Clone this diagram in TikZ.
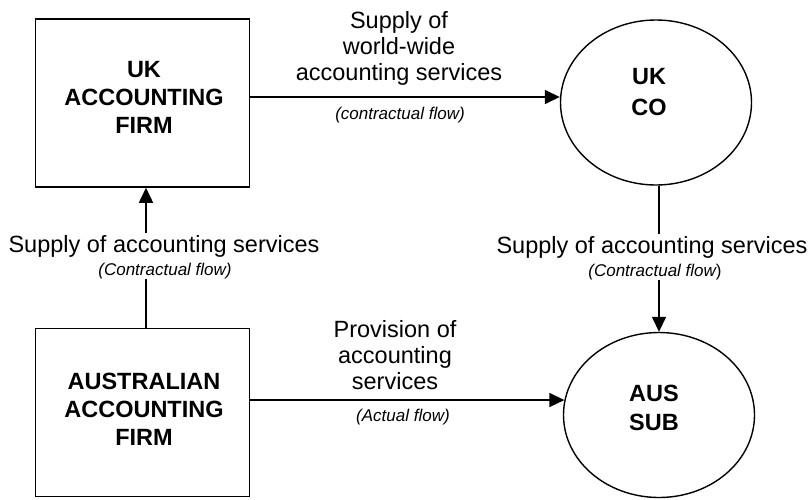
\documentclass[tikz,border=0pt]{standalone}
\usepackage{fontspec}
\setmainfont{Liberation Sans}
\usetikzlibrary{arrows.meta,shapes.geometric}
\tikzset{
  boxnode/.style={draw, line width=1.5pt, minimum width=214pt, minimum height=168pt, inner sep=0pt},
  ellnode/.style={draw, ellipse, line width=1.4pt, minimum width=191pt, minimum height=165pt, inner sep=0pt},
  bigtxt/.style={font=\fontsize{23.5}{#1}\selectfont\bfseries, align=center, inner sep=0pt},
  bigtxt/.default=28,
  labtxt/.style={font=\fontsize{23.5}{26}\selectfont, align=center, inner sep=0pt},
  flowtxt/.style={font=\fontsize{17}{20}\selectfont\itshape, inner sep=0pt},
  conn/.style={line width=1.5pt},
  arr/.style={conn, -{Triangle[length=15pt,width=14pt]}},
}
\begin{document}
\begin{tikzpicture}[x=1pt,y=-1pt]
\useasboundingbox (0,0) rectangle (811,499);
% nodes
\node[boxnode] (ukf) at (142.5,103) {};
\node[bigtxt] (ukft) at (144,97) {UK\\ACCOUNTING\\FIRM};
\node[ellnode] (ukc) at (656,102.5) {};
\node[bigtxt=31] (ukct) at (649,92.5) {UK\\CO};
\node[boxnode] (ausf) at (142.5,412.5) {};
\node[bigtxt] (ausft) at (144,409) {AUSTRALIAN\\ACCOUNTING\\FIRM};
\node[ellnode] (ausc) at (659,415) {};
\node[bigtxt=29] (ausct) at (654,407.5) {AUS\\SUB};
% labels
\node[labtxt] (toplab) at (399,48) {Supply of\\world-wide\\accounting services};
\node[flowtxt] (topflow) at (400,115) {(contractual flow)};
\node[labtxt] (botlab) at (395,355.5) {Provision of\\accounting\\services};
\node[flowtxt] (botflow) at (403,417) {(Actual flow)};
\node[labtxt, anchor=base, inner ysep=2pt] (lsup) at (164,252.5) {Supply of accounting services};
\node[flowtxt] (lflow) at (165,271) {(Contractual flow)};
\node[labtxt, anchor=base, inner ysep=2pt] (rsup) at (652,253) {Supply of accounting services};
\node[flowtxt] (rflow) at (655,272) {(Contractual flow\upshape)};
\coordinate (lx) at (146,0);
% connectors
\draw[arr] (ukf.east |- ukft) -- (ukft -| ukc.west);
\draw[arr] (ausf.east |- ausc.171.5) -- (ausc.171.5);
\draw[conn] (lx |- ausf.north) -- (lx |- lflow.south);
\draw[arr] (lx |- lsup.north) -- (lx |- ukf.south);
\draw[conn] (ausc.north |- ukc.south) -- (ausc.north |- rsup.north);
\draw[arr] (ausc.north |- rflow.south) -- (ausc.north);
\end{tikzpicture}
\end{document}
